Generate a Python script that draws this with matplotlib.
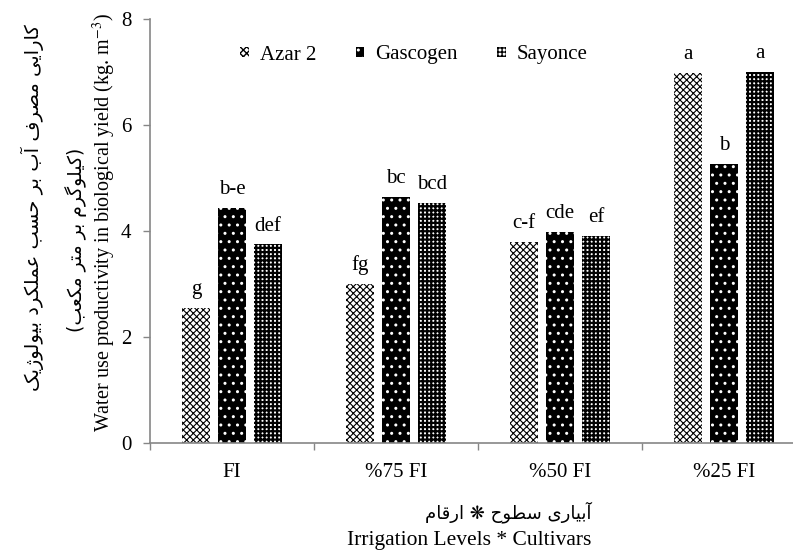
import numpy as np
import matplotlib
matplotlib.use('Agg')
import matplotlib.pyplot as plt

plt.rcParams['font.family'] = ['Liberation Serif', 'DejaVu Sans']
plt.rcParams['mathtext.fontset'] = 'stix'

# Data
levels = ['FI', '%75 FI', '%50 FI', '%25 FI']
cultivars = ['Azar 2', 'Gascogen', 'Sayonce']
azar = [2.55, 3.00, 3.79, 6.98]
gascogen = [4.43, 4.65, 3.98, 5.26]
sayonce = [3.75, 4.53, 3.91, 7.00]
letters_azar = ['g', 'fg', 'c-f', 'a']
letters_gascogen = ['b-e', 'bc', 'cde', 'b']
letters_sayonce = ['def', 'bcd', 'ef', 'a']

# Persian contextual forms: isolated, final, initial, medial
FORMS = {
    'ا': ('\ufe8d', '\ufe8e', None, None),
    'آ': ('\ufe81', '\ufe82', None, None),
    'د': ('\ufea9', '\ufeaa', None, None),
    'ر': ('\ufead', '\ufeae', None, None),
    'ز': ('\ufeaf', '\ufeb0', None, None),
    'ژ': ('\ufb8a', '\ufb8b', None, None),
    'و': ('\ufeed', '\ufeee', None, None),
    'ب': ('\ufe8f', '\ufe90', '\ufe91', '\ufe92'),
    'پ': ('\ufb56', '\ufb57', '\ufb58', '\ufb59'),
    'ت': ('\ufe95', '\ufe96', '\ufe97', '\ufe98'),
    'ح': ('\ufea1', '\ufea2', '\ufea3', '\ufea4'),
    'س': ('\ufeb1', '\ufeb2', '\ufeb3', '\ufeb4'),
    'ص': ('\ufeb9', '\ufeba', '\ufebb', '\ufebc'),
    'ط': ('\ufec1', '\ufec2', '\ufec3', '\ufec4'),
    'ع': ('\ufec9', '\ufeca', '\ufecb', '\ufecc'),
    'ف': ('\ufed1', '\ufed2', '\ufed3', '\ufed4'),
    'ق': ('\ufed5', '\ufed6', '\ufed7', '\ufed8'),
    'ک': ('\ufb8e', '\ufb8f', '\ufb90', '\ufb91'),
    'گ': ('\ufb92', '\ufb93', '\ufb94', '\ufb95'),
    'ل': ('\ufedd', '\ufede', '\ufedf', '\ufee0'),
    'م': ('\ufee1', '\ufee2', '\ufee3', '\ufee4'),
    'ن': ('\ufee5', '\ufee6', '\ufee7', '\ufee8'),
    'ه': ('\ufee9', '\ufeea', '\ufeeb', '\ufeec'),
    'ی': ('\ufbfc', '\ufbfd', '\ufbfe', '\ufbff'),
}


def shape_word(word):
    if word[0] not in FORMS:
        return word
    out = []
    for i, ch in enumerate(word):
        iso, fin, ini, med = FORMS[ch]
        prev_joins = i > 0 and FORMS[word[i - 1]][2] is not None
        next_joins = i < len(word) - 1 and ini is not None
        if prev_joins and next_joins:
            out.append(med)
        elif prev_joins:
            out.append(fin)
        elif next_joins:
            out.append(ini)
        else:
            out.append(iso)
    return ''.join(reversed(out))


def visual(words):
    # words listed left to right as they appear on the page
    return ' '.join(shape_word(w) for w in words)


fa_ylabel1 = visual(['بیولوژیک', 'عملکرد', 'حسب', 'بر', 'آب', 'مصرف', 'کارایی'])
fa_ylabel2 = '(' + visual(['مکعب', 'متر', 'بر', 'کیلوگرم']) + ')'
fa_xlabel = visual(['ارقام', '❋', 'سطوح', 'آبیاری'])

fig = plt.figure(figsize=(7.93, 5.55), dpi=100)
ax = fig.add_axes([150 / 793, 1 - 443.3 / 555, 656 / 793, (443.3 - 19) / 555])

x = np.arange(len(levels))
w = 0.17
gap = 0.22

with plt.rc_context({'hatch.linewidth': 0.8}):
    b1 = ax.bar(x - gap, azar, w, facecolor='white', edgecolor='black',
                hatch='xxxxx', linewidth=0, label=cultivars[0])
with plt.rc_context({'hatch.linewidth': 1.0}):
    b2 = ax.bar(x, gascogen, w, facecolor='black', edgecolor='white',
                hatch='..', linewidth=0, label=cultivars[1])
with plt.rc_context({'hatch.linewidth': 1.6}):
    b3 = ax.bar(x + gap, sayonce, w, facecolor='white', edgecolor='black',
                hatch='++++', linewidth=0, label=cultivars[2])

for bars, labs in [(b1, letters_azar), (b2, letters_gascogen), (b3, letters_sayonce)]:
    for rect, lab in zip(bars, labs):
        ax.annotate(lab, (rect.get_x() + rect.get_width() / 2, rect.get_height()),
                    xytext=(0, 10), textcoords='offset points',
                    ha='center', va='baseline', fontsize=15)

ax.set_xlim(-0.5, 3.5)
ax.set_ylim(0, 8)
ax.set_yticks([0, 2, 4, 6, 8])
ax.set_xticks(x)
ax.set_xticklabels(levels)
ax.set_xticks(np.arange(-0.5, 4, 1), minor=True)
ax.tick_params(axis='x', which='major', length=0, pad=14, labelsize=15)
ax.tick_params(axis='x', which='minor', length=5, color='#868686', width=1)
ax.tick_params(axis='y', length=5, color='#868686', width=1, labelsize=15, pad=8.5)

for s in ['top', 'right']:
    ax.spines[s].set_visible(False)
for s in ['left', 'bottom']:
    ax.spines[s].set_color('#868686')
    ax.spines[s].set_linewidth(1.2)

ax.legend(loc='center', bbox_to_anchor=(414 / 793, 1 - 55 / 555), bbox_transform=fig.transFigure,
          ncol=3, frameon=False, fontsize=15, handlelength=0.4, handleheight=0.4,
          handletextpad=0.53, columnspacing=1.9)

fig.text(104 / 793, 1 - 222 / 555, r'Water use productivity in biological yield (kg. m$^{-3}$)',
         rotation=90, ha='center', va='center', fontsize=14.5)
fig.text(76 / 793, 1 - 240 / 555, fa_ylabel2, rotation=90, ha='center', va='center',
         fontsize=13.5, family='DejaVu Sans')
fig.text(32 / 793, 1 - 208 / 555, fa_ylabel1, rotation=90, ha='center', va='center',
         fontsize=14, family='DejaVu Sans')
fig.text(508 / 793, 1 - 512 / 555, fa_xlabel, ha='center', va='center',
         fontsize=13, family='DejaVu Sans')
fig.text(469 / 793, 1 - 541 / 555, 'Irrigation Levels * Cultivars',
         ha='center', va='center', fontsize=15.5)

fig.savefig('out.png', dpi=100)
